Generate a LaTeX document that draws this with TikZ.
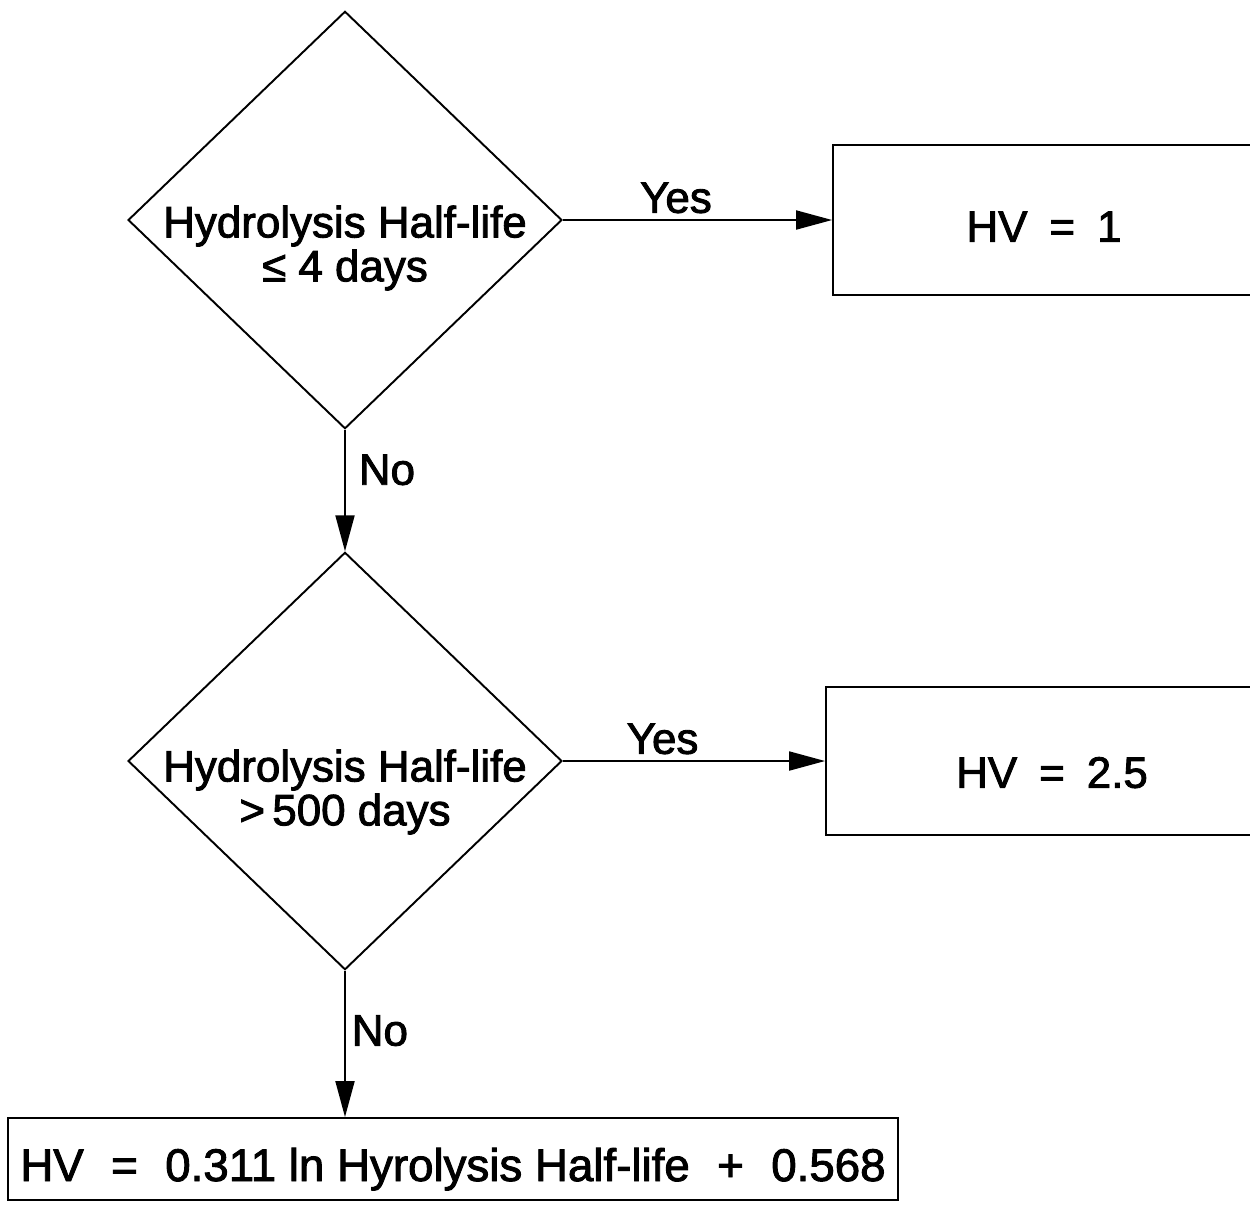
\documentclass[tikz,border=0pt]{standalone}
\usepackage{fontspec}
\setmainfont{Liberation Sans}[FakeBold=2]
\usetikzlibrary{shapes.geometric,arrows.meta,positioning}
\newcommand{\wide}[2][0.5em]{\hspace{#1}#2\hspace{#1}}

\begin{document}
\begin{tikzpicture}[x=0.02cm, y=-0.02cm,
    every node/.style={font=\fontsize{25}{25}\selectfont},
    test/.style={diamond, draw, line width=1.1pt, minimum width=8.68cm, minimum height=8.35cm, inner sep=0pt},
    result/.style={rectangle, draw, line width=1.1pt, inner sep=0pt},
    flow/.style={line width=1.1pt, -{Triangle[length=0.72cm,width=0.38cm]}}]
    \useasboundingbox (0,0) rectangle (1250,1205);

    % Decision diamonds
    \node[test] (q1) at (345,220) {};
    \node[align=center, yshift=-0.56cm] (q1text) at (q1) {Hydrolysis Half-life\\≤ 4 days};
    \node[test] (q2) at (345,761) {};
    \node[align=center, yshift=-0.62cm] (q2text) at (q2) {Hydrolysis Half-life\\>\,500 days};

    % Result boxes
    \node[result, minimum width=8.44cm, minimum height=3cm, text height=0.87cm, text depth=0pt] (r1) at (1044,220) {HV\wide{=}1};
    \node[result, minimum width=9.04cm, minimum height=2.96cm, text height=1.07cm, text depth=0pt] (r2) at (1052,761) {HV\wide{=}2.5};
    \node[result, minimum width=17.8cm, minimum height=1.64cm, text height=0.88cm, text depth=0pt, font=\fontsize{26}{26}\selectfont] (r3) at (453,1159) {HV\wide[0.6em]{=}0.311 ln Hyrolysis Half-life\wide[0.6em]{+}0.568};

    % Connectors
    \draw[flow] (q1.east) -- node[above, pos=0.42] (yes1) {Yes} (r1.west);
    \draw[flow] (q2.east) -- node[above, pos=0.38] (yes2) {Yes} (r2.west);
    \draw[flow] (q1.south) -- node[right=4pt, pos=0.33] (no1) {No} (q2.north);
    \draw[flow] (q2.south) -- node[right, pos=0.41] (no2) {No} (q2.south |- r3.north);

\end{tikzpicture}
\end{document}
